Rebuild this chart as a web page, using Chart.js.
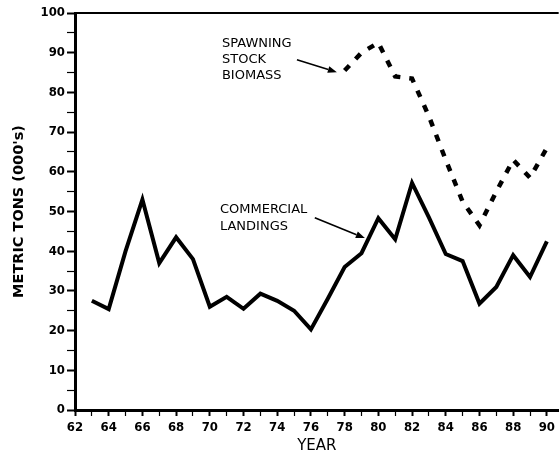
<!DOCTYPE html>
<html><head><meta charset="utf-8">
<script src="https://cdn.jsdelivr.net/npm/chart.js@4"></script>
<style>html,body{margin:0;padding:0;background:#fff}#wrap{width:559px;height:455px}</style>
</head><body><div id="wrap"><canvas id="c" width="559" height="455"></canvas></div>
<script>
// ---- data ----
const landingYears = [63,64,65,66,67,68,69,70,71,72,73,74,75,76,77,78,79,80,81,82,83,84,85,86,87,88,89,90];
const landings     = [27.5,25.4,40,53,37,43.5,38,26,28.5,25.5,29.3,27.5,25,20.3,28,36,39.5,48.3,43,57.2,48.5,39.3,37.5,26.8,31,39,33.5,42.5];
const ssbYears     = [78,79,80,81,82,83,84,85,86,87,88,89,90];
const ssb          = [85.5,90,92.5,84,83.5,74,63,52.5,46.5,55,63,58.5,66];
const xTickValues  = [62,63,64,65,66,67,68,69,70,71,72,73,74,75,76,77,78,79,80,81,82,83,84,85,86,87,88,89,90];
const yTickValues  = [0,5,10,15,20,25,30,35,40,45,50,55,60,65,70,75,80,85,90,95,100];
const yAxisTitle   = "METRIC TONS (000's)";
const xAxisTitle   = "YEAR";
const notes = [
  {lines:['SPAWNING','STOCK','BIOMASS'], x:70.72, y:[92.4,88.2,84.1], from:[75.17,88.2], to:[77.54,85.1]},
  {lines:['COMMERCIAL','LANDINGS'], x:70.6, y:[50.4,46.3], from:[76.23,48.4], to:[79.2,43.3]}
];

const tickFont = {family:"'DejaVu Sans Condensed','DejaVu Sans',sans-serif", size:13, weight:'bold'};

const annot = {
  id:'annot',
  afterDraw(chart){
    const {ctx, chartArea, scales:{x,y}} = chart;
    ctx.save();
    // top frame line
    ctx.strokeStyle='#000'; ctx.lineWidth=2;
    ctx.beginPath(); ctx.moveTo(chartArea.left, chartArea.top); ctx.lineTo(chartArea.right, chartArea.top); ctx.stroke();
    ctx.fillStyle='#000';
    ctx.font="13px 'DejaVu Sans',sans-serif";
    ctx.textBaseline='middle'; ctx.textAlign='left';
    notes.forEach(n=>{
      n.lines.forEach((t,i)=>ctx.fillText(t, x.getPixelForValue(n.x), y.getPixelForValue(n.y[i])));
      const x1=x.getPixelForValue(n.from[0]), y1=y.getPixelForValue(n.from[1]);
      const x2=x.getPixelForValue(n.to[0]), y2=y.getPixelForValue(n.to[1]);
      const a=Math.atan2(y2-y1,x2-x1), L=9, W=3.5;
      ctx.lineWidth=1.6;
      ctx.beginPath(); ctx.moveTo(x1,y1); ctx.lineTo(x2-L*Math.cos(a), y2-L*Math.sin(a)); ctx.stroke();
      ctx.beginPath();
      ctx.moveTo(x2,y2);
      ctx.lineTo(x2-L*Math.cos(a)+W*Math.sin(a), y2-L*Math.sin(a)-W*Math.cos(a));
      ctx.lineTo(x2-L*Math.cos(a)-W*Math.sin(a), y2-L*Math.sin(a)+W*Math.cos(a));
      ctx.closePath(); ctx.fill();
    });
    ctx.restore();
  }
};

new Chart(document.getElementById('c'), {
  type:'line',
  data:{datasets:[
    {label:'Commercial landings', data:landingYears.map((v,i)=>({x:v,y:landings[i]})),
     borderColor:'#000', borderWidth:4, pointRadius:0, tension:0, borderJoinStyle:'miter', fill:false},
    {label:'Spawning stock biomass', data:ssbYears.map((v,i)=>({x:v,y:ssb[i]})),
     borderColor:'#000', borderWidth:4.5, borderDash:[7,9], pointRadius:0, tension:0, fill:false}
  ]},
  options:{
    responsive:false, animation:false, devicePixelRatio:1,
    layout:{padding:{top:13,right:0,left:0,bottom:0}},
    plugins:{legend:{display:false}, tooltip:{enabled:false}},
    scales:{
      x:{type:'linear', min:62, max:90.7,
        afterBuildTicks:s=>{s.ticks=xTickValues.map(v=>({value:v}));},
        afterFit:s=>{s.height=45;},
        ticks:{autoSkip:false, maxRotation:0, padding:4, color:'#000', font:tickFont,
          callback:v=>(v%2===0?String(v):'')},
        grid:{drawOnChartArea:false, drawTicks:true, tickLength:6, tickColor:'#000',
          tickWidth:c=>(c.tick && c.tick.value%2===0?2:1.2)},
        border:{display:true, color:'#000', width:3},
        title:{display:true, text:xAxisTitle, color:'#000', padding:{top:0,bottom:0},
          font:{family:"'DejaVu Sans',sans-serif", size:15}}
      },
      y:{min:0, max:100,
        afterBuildTicks:s=>{s.ticks=yTickValues.map(v=>({value:v}));},
        afterFit:s=>{s.width=75;},
        ticks:{autoSkip:false, padding:2, color:'#000', font:tickFont,
          callback:v=>(v%10===0?String(v):'')},
        grid:{drawOnChartArea:false, drawTicks:true, tickLength:8, tickColor:'#000',
          tickWidth:c=>(c.tick && c.tick.value%10===0?2:1.2)},
        border:{display:true, color:'#000', width:3},
        title:{display:true, text:yAxisTitle, color:'#000', padding:{top:11,bottom:0},
          font:{family:"'DejaVu Sans',sans-serif", size:14.5, weight:'bold'}}
      }
    }
  },
  plugins:[annot]
});
</script></body></html>
